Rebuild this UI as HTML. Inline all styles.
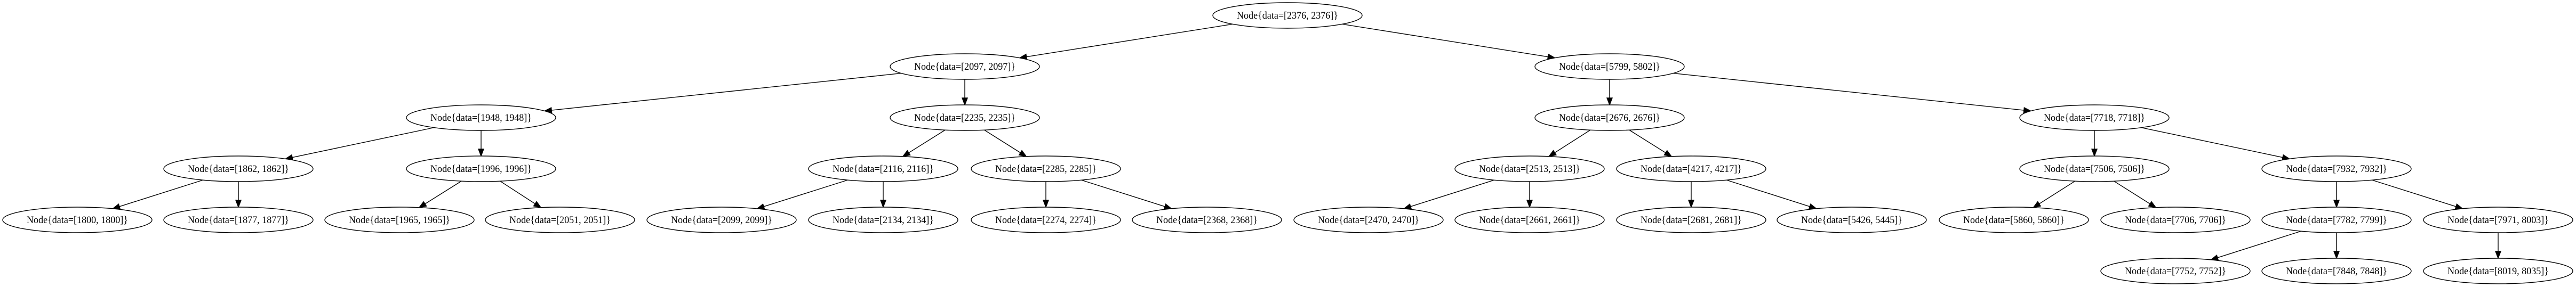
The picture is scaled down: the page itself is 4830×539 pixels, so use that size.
<!DOCTYPE html>
<html><head><meta charset="utf-8"><style>
html,body{margin:0;padding:0;background:#fff;width:4830px;height:539px;overflow:hidden}
svg text{font-family:"Liberation Serif",serif;font-size:19px;fill:#000}
</style></head><body>
<svg id="s" width="4830" height="539" xmlns="http://www.w3.org/2000/svg">
<g id="edges" stroke="#000" stroke-width="1.4" fill="#000"></g>
<g id="nodes" fill="#fff" stroke="#000" stroke-width="1.4">
<ellipse cx="2414" cy="29" rx="140" ry="24"/>
<ellipse cx="1809" cy="125" rx="140" ry="24"/>
<ellipse cx="3018" cy="125" rx="140" ry="24"/>
<ellipse cx="902" cy="221" rx="140" ry="24"/>
<ellipse cx="1809" cy="221" rx="140" ry="24"/>
<ellipse cx="3018" cy="221" rx="140" ry="24"/>
<ellipse cx="3927" cy="221" rx="140" ry="24"/>
<ellipse cx="447" cy="317" rx="140" ry="24"/>
<ellipse cx="902" cy="317" rx="140" ry="24"/>
<ellipse cx="1656" cy="317" rx="140" ry="24"/>
<ellipse cx="1961" cy="317" rx="140" ry="24"/>
<ellipse cx="2868" cy="317" rx="140" ry="24"/>
<ellipse cx="3171" cy="317" rx="140" ry="24"/>
<ellipse cx="3927" cy="317" rx="140" ry="24"/>
<ellipse cx="4381" cy="317" rx="140" ry="24"/>
<ellipse cx="145" cy="413" rx="140" ry="24"/>
<ellipse cx="447" cy="413" rx="140" ry="24"/>
<ellipse cx="749" cy="413" rx="140" ry="24"/>
<ellipse cx="1050" cy="413" rx="140" ry="24"/>
<ellipse cx="1353" cy="413" rx="140" ry="24"/>
<ellipse cx="1656" cy="413" rx="140" ry="24"/>
<ellipse cx="1961" cy="413" rx="140" ry="24"/>
<ellipse cx="2263" cy="413" rx="140" ry="24"/>
<ellipse cx="2566" cy="413" rx="140" ry="24"/>
<ellipse cx="2868" cy="413" rx="140" ry="24"/>
<ellipse cx="3171" cy="413" rx="140" ry="24"/>
<ellipse cx="3472" cy="413" rx="140" ry="24"/>
<ellipse cx="3776" cy="413" rx="140" ry="24"/>
<ellipse cx="4079" cy="413" rx="140" ry="24"/>
<ellipse cx="4381" cy="413" rx="140" ry="24"/>
<ellipse cx="4684" cy="413" rx="140" ry="24"/>
<ellipse cx="4079" cy="509" rx="140" ry="24"/>
<ellipse cx="4381" cy="509" rx="140" ry="24"/>
<ellipse cx="4684" cy="509" rx="140" ry="24"/>
</g>
<g text-anchor="middle">
<text x="2414" y="35" textLength="190" lengthAdjust="spacingAndGlyphs">Node{data=[2376, 2376]}</text>
<text x="1809" y="131" textLength="190" lengthAdjust="spacingAndGlyphs">Node{data=[2097, 2097]}</text>
<text x="3018" y="131" textLength="190" lengthAdjust="spacingAndGlyphs">Node{data=[5799, 5802]}</text>
<text x="902" y="227" textLength="190" lengthAdjust="spacingAndGlyphs">Node{data=[1948, 1948]}</text>
<text x="1809" y="227" textLength="190" lengthAdjust="spacingAndGlyphs">Node{data=[2235, 2235]}</text>
<text x="3018" y="227" textLength="190" lengthAdjust="spacingAndGlyphs">Node{data=[2676, 2676]}</text>
<text x="3927" y="227" textLength="190" lengthAdjust="spacingAndGlyphs">Node{data=[7718, 7718]}</text>
<text x="447" y="323" textLength="190" lengthAdjust="spacingAndGlyphs">Node{data=[1862, 1862]}</text>
<text x="902" y="323" textLength="190" lengthAdjust="spacingAndGlyphs">Node{data=[1996, 1996]}</text>
<text x="1656" y="323" textLength="190" lengthAdjust="spacingAndGlyphs">Node{data=[2116, 2116]}</text>
<text x="1961" y="323" textLength="190" lengthAdjust="spacingAndGlyphs">Node{data=[2285, 2285]}</text>
<text x="2868" y="323" textLength="190" lengthAdjust="spacingAndGlyphs">Node{data=[2513, 2513]}</text>
<text x="3171" y="323" textLength="190" lengthAdjust="spacingAndGlyphs">Node{data=[4217, 4217]}</text>
<text x="3927" y="323" textLength="190" lengthAdjust="spacingAndGlyphs">Node{data=[7506, 7506]}</text>
<text x="4381" y="323" textLength="190" lengthAdjust="spacingAndGlyphs">Node{data=[7932, 7932]}</text>
<text x="145" y="419" textLength="190" lengthAdjust="spacingAndGlyphs">Node{data=[1800, 1800]}</text>
<text x="447" y="419" textLength="190" lengthAdjust="spacingAndGlyphs">Node{data=[1877, 1877]}</text>
<text x="749" y="419" textLength="190" lengthAdjust="spacingAndGlyphs">Node{data=[1965, 1965]}</text>
<text x="1050" y="419" textLength="190" lengthAdjust="spacingAndGlyphs">Node{data=[2051, 2051]}</text>
<text x="1353" y="419" textLength="190" lengthAdjust="spacingAndGlyphs">Node{data=[2099, 2099]}</text>
<text x="1656" y="419" textLength="190" lengthAdjust="spacingAndGlyphs">Node{data=[2134, 2134]}</text>
<text x="1961" y="419" textLength="190" lengthAdjust="spacingAndGlyphs">Node{data=[2274, 2274]}</text>
<text x="2263" y="419" textLength="190" lengthAdjust="spacingAndGlyphs">Node{data=[2368, 2368]}</text>
<text x="2566" y="419" textLength="190" lengthAdjust="spacingAndGlyphs">Node{data=[2470, 2470]}</text>
<text x="2868" y="419" textLength="190" lengthAdjust="spacingAndGlyphs">Node{data=[2661, 2661]}</text>
<text x="3171" y="419" textLength="190" lengthAdjust="spacingAndGlyphs">Node{data=[2681, 2681]}</text>
<text x="3472" y="419" textLength="190" lengthAdjust="spacingAndGlyphs">Node{data=[5426, 5445]}</text>
<text x="3776" y="419" textLength="190" lengthAdjust="spacingAndGlyphs">Node{data=[5860, 5860]}</text>
<text x="4079" y="419" textLength="190" lengthAdjust="spacingAndGlyphs">Node{data=[7706, 7706]}</text>
<text x="4381" y="419" textLength="190" lengthAdjust="spacingAndGlyphs">Node{data=[7782, 7799]}</text>
<text x="4684" y="419" textLength="190" lengthAdjust="spacingAndGlyphs">Node{data=[7971, 8003]}</text>
<text x="4079" y="515" textLength="190" lengthAdjust="spacingAndGlyphs">Node{data=[7752, 7752]}</text>
<text x="4381" y="515" textLength="190" lengthAdjust="spacingAndGlyphs">Node{data=[7848, 7848]}</text>
<text x="4684" y="515" textLength="190" lengthAdjust="spacingAndGlyphs">Node{data=[8019, 8035]}</text>
</g>
</svg>
<script>
var R=[29,125,221,317,413,509];
var E=[[2414,0,1809],[2414,0,3018],[1809,1,902],[1809,1,1809],[3018,1,3018],[3018,1,3927],
[902,2,447],[902,2,902],[1809,2,1656],[1809,2,1961],[3018,2,2868],[3018,2,3171],[3927,2,3927],[3927,2,4381],
[447,3,145],[447,3,447],[902,3,749],[902,3,1050],[1656,3,1353],[1656,3,1656],[1961,3,1961],[1961,3,2263],
[2868,3,2566],[2868,3,2868],[3171,3,3171],[3171,3,3472],[3927,3,3776],[3927,3,4079],[4381,3,4381],[4381,3,4684],
[4381,4,4079],[4381,4,4381],[4684,4,4684]];
var g=document.getElementById('edges'),ns='http://www.w3.org/2000/svg';
function clip(cx,cy,dx,dy){var t=1/Math.sqrt((dx*dx)/(140*140)+(dy*dy)/(24*24));return [cx+dx*t,cy+dy*t];}
E.forEach(function(e){
 var x1=e[0],y1=R[e[1]],x2=e[2],y2=R[e[1]+1];
 var dx=x2-x1,dy=y2-y1;
 var a=clip(x1,y1,dx,dy),b=clip(x2,y2,-dx,-dy);
 var L=Math.hypot(b[0]-a[0],b[1]-a[1]),ux=(b[0]-a[0])/L,uy=(b[1]-a[1])/L;
 var hx=b[0]-ux*13,hy=b[1]-uy*13;
 var l=document.createElementNS(ns,'line');
 l.setAttribute('x1',a[0]);l.setAttribute('y1',a[1]);l.setAttribute('x2',hx);l.setAttribute('y2',hy);
 g.appendChild(l);
 var p=document.createElementNS(ns,'polygon');
 p.setAttribute('points',b[0]+','+b[1]+' '+(hx-uy*5)+','+(hy+ux*5)+' '+(hx+uy*5)+','+(hy-ux*5));
 g.appendChild(p);
});
</script>
</body></html>
